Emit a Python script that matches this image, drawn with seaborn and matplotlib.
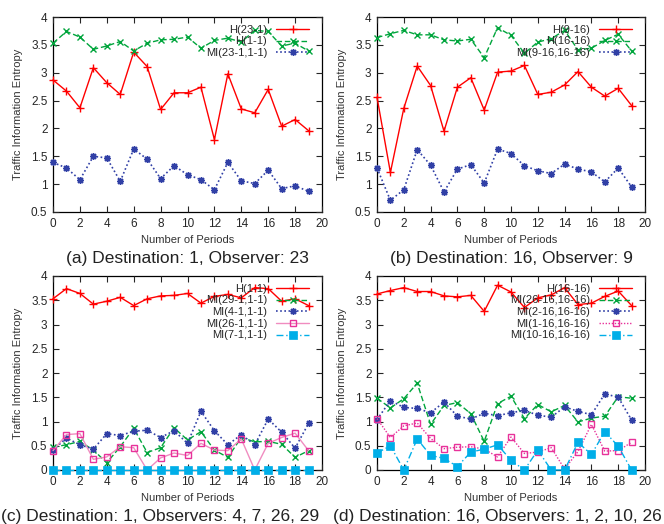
import numpy as np
import pandas as pd
import matplotlib
matplotlib.use("Agg")
import matplotlib.pyplot as plt
import seaborn as sns

# periods 0..19
periods = list(range(20))

# (a) destination 1, observer 23
h_23_1 = [2.87, 2.67, 2.37, 3.09, 2.82, 2.61, 3.37, 3.11, 2.34, 2.64,
          2.64, 2.74, 1.80, 2.98, 2.35, 2.28, 2.70, 2.04, 2.16, 1.96]
h_1_1 = [3.53, 3.74, 3.64, 3.42, 3.48, 3.56, 3.39, 3.53, 3.59, 3.60,
         3.64, 3.44, 3.58, 3.62, 3.55, 3.76, 3.74, 3.48, 3.53, 3.39]
mi_23_1 = [1.39, 1.29, 1.08, 1.50, 1.47, 1.05, 1.63, 1.45, 1.10, 1.33,
           1.17, 1.08, 0.90, 1.39, 1.06, 1.01, 1.25, 0.92, 0.97, 0.87]

# (b) destination 16, observer 9
h_9_16 = [2.56, 1.21, 2.36, 3.12, 2.77, 1.95, 2.74, 2.91, 2.33, 3.01,
          3.03, 3.13, 2.61, 2.65, 2.78, 3.02, 2.74, 2.58, 2.72, 2.41]
h_16_16 = [3.63, 3.70, 3.76, 3.68, 3.68, 3.59, 3.57, 3.60, 3.27, 3.81,
           3.67, 3.35, 3.55, 3.61, 3.76, 3.41, 3.44, 3.58, 3.69, 3.39]
mi_9_16 = [1.29, 0.71, 0.90, 1.62, 1.34, 0.86, 1.27, 1.35, 1.02, 1.63,
           1.55, 1.33, 1.24, 1.19, 1.36, 1.27, 1.22, 1.04, 1.29, 0.95]

# (c) destination 1, observers 4, 7, 26, 29
mi_29_1 = [0.47, 0.52, 0.59, 0.41, 0.15, 0.48, 0.86, 0.36, 0.46, 0.87,
           0.62, 0.79, 0.41, 0.26, 0.67, 0.58, 0.59, 0.53, 0.26, 0.40]
mi_4_1 = [0.41, 0.66, 0.52, 0.43, 0.75, 0.71, 0.80, 0.82, 0.67, 0.81,
          0.55, 1.21, 0.81, 0.52, 0.73, 0.52, 1.05, 0.78, 0.45, 0.96]
mi_26_1 = [0.40, 0.73, 0.75, 0.22, 0.27, 0.48, 0.46, 0.00, 0.25, 0.35,
           0.30, 0.55, 0.41, 0.40, 0.64, 0.00, 0.55, 0.67, 0.76, 0.40]
mi_7_1 = [0.0] * 20

# (d) destination 16, observers 1, 2, 10, 26
mi_26_16 = [1.48, 1.28, 1.47, 1.79, 0.94, 1.33, 1.39, 1.16, 0.59, 1.37,
            1.52, 1.06, 1.35, 1.20, 1.33, 0.99, 1.07, 1.11, 1.51, 1.48]
mi_2_16 = [1.04, 1.43, 1.29, 1.27, 1.18, 1.40, 1.11, 1.05, 1.17, 1.12,
           1.18, 1.23, 1.13, 1.09, 1.30, 1.21, 1.14, 1.57, 1.50, 1.03]
mi_1_16 = [1.06, 0.67, 0.91, 0.97, 0.65, 0.44, 0.47, 0.48, 0.43, 0.27,
           0.68, 0.34, 0.37, 0.46, 0.02, 0.38, 0.94, 0.39, 0.40, 0.57]
mi_10_16 = [0.35, 0.50, 0.00, 0.64, 0.30, 0.24, 0.07, 0.37, 0.43, 0.52,
            0.20, 0.00, 0.41, 0.00, 0.00, 0.57, 0.32, 0.79, 0.49, 0.00]

captions = ["(a) Destination: 1, Observer: 23",
            "(b) Destination: 16, Observer: 9",
            "(c) Destination: 1, Observers: 4, 7, 26, 29",
            "(d) Destination: 16, Observers: 1, 2, 10, 26"]

sns.set_style("ticks")
plt.rcParams["font.family"] = ["Liberation Sans", "DejaVu Sans"]
plt.rcParams["xtick.direction"] = "in"
plt.rcParams["ytick.direction"] = "in"

RED, GREEN, BLUE = "#ff0000", "#00a53c", "#3140a6"
PINK, CYAN = "#e8329a", "#00aee8"
ASTER = (8, 2, 0)

# gnuplot-ish line styles (mec given explicitly, seaborn defaults it to white)
sty = {
    "red": dict(color=RED, marker="+", ms=6, mew=1.0, mec=RED, linestyle="-", lw=1.0),
    "green": dict(color=GREEN, marker="x", ms=4.5, mew=1.0, mec=GREEN, linestyle=(0, (4, 2)), lw=1.0),
    "blue": dict(color=BLUE, marker=ASTER, ms=5, mew=1.0, mec=BLUE, linestyle=(0, (1, 1.5)), lw=1.2),
    "pink": dict(color=PINK, marker="s", ms=4.5, mew=1.0, mec=PINK, mfc="none", linestyle=(0, (1, 1.2)), lw=1.0),
    "cyan": dict(color=CYAN, marker="s", ms=5.5, mew=0.5, mec=CYAN, linestyle=(0, (5, 2, 1, 2)), lw=1.0),
}

panels = [
    [("H(23-1)", h_23_1, "red"), ("H(1-1)", h_1_1, "green"), ("MI(23-1,1-1)", mi_23_1, "blue")],
    [("H(9-16)", h_9_16, "red"), ("H(16-16)", h_16_16, "green"), ("MI(9-16,16-16)", mi_9_16, "blue")],
    [("H(1-1)", h_1_1, "red"), ("MI(29-1,1-1)", mi_29_1, "green"), ("MI(4-1,1-1)", mi_4_1, "blue"),
     ("MI(26-1,1-1)", mi_26_1, "pink"), ("MI(7-1,1-1)", mi_7_1, "cyan")],
    [("H(16-16)", h_16_16, "red"), ("MI(26-16,16-16)", mi_26_16, "green"), ("MI(2-16,16-16)", mi_2_16, "blue"),
     ("MI(1-16,16-16)", mi_1_16, "pink"), ("MI(10-16,16-16)", mi_10_16, "cyan")],
]

W, H = 664, 524
fig = plt.figure(figsize=(W / 100, H / 100), dpi=100)

# axes boxes in pixels: left, top, right, bottom
boxes = [(53, 17, 322, 212), (377, 17, 645, 212),
         (53, 276, 322, 470), (377, 276, 645, 470)]
cap_pos = [(187, 258), (511, 258), (160, 517), (497, 517)]

for i, (series, box) in enumerate(zip(panels, boxes)):
    l, t, r, b = box
    ax = fig.add_axes([l / W, 1 - b / H, (r - l) / W, (b - t) / H])
    for label, vals, key in series:
        s = dict(sty[key])
        if i == 2 and key == "pink":
            s["linestyle"] = "-"
            s["color"] = "#f08cc0"
        df = pd.DataFrame({"period": periods, "value": vals})
        sns.lineplot(data=df, x="period", y="value", ax=ax, label=label, clip_on=False, **s)
    ax.set_xlim(0, 20)
    ax.set_xticks(range(0, 21, 2))
    if i < 2:
        ax.set_ylim(0.5, 4)
        ax.set_yticks(np.arange(0.5, 4.01, 0.5))
    else:
        ax.set_ylim(0, 4)
        ax.set_yticks(np.arange(0, 4.01, 0.5))
    ax.set_yticklabels([("%g" % v) for v in ax.get_yticks()])
    ax.tick_params(top=True, right=True, labelsize=8.5, length=4, width=0.8, pad=4)
    for sp in ax.spines.values():
        sp.set_linewidth(0.9)
        sp.set_color("black")
        sp.set_zorder(0.5)
    ax.set_xlabel("Number of Periods", fontsize=8, color="#333333", labelpad=4)
    ax.set_ylabel("Traffic Information Entropy", fontsize=8, color="#333333", labelpad=6)
    ax.legend(loc="upper right", bbox_to_anchor=(1 - 5 / (r - l), 1), frameon=False,
              markerfirst=False, fontsize=8, handlelength=3.0, handletextpad=0.8,
              labelspacing=0.15, borderaxespad=0.5, borderpad=0.2, numpoints=1)
    cx, cy = cap_pos[i]
    fig.text(cx / W, 1 - cy / H, captions[i], ha="center", va="center",
             fontsize=12.5, color="#222222")

fig.savefig("out.png", dpi=100)
